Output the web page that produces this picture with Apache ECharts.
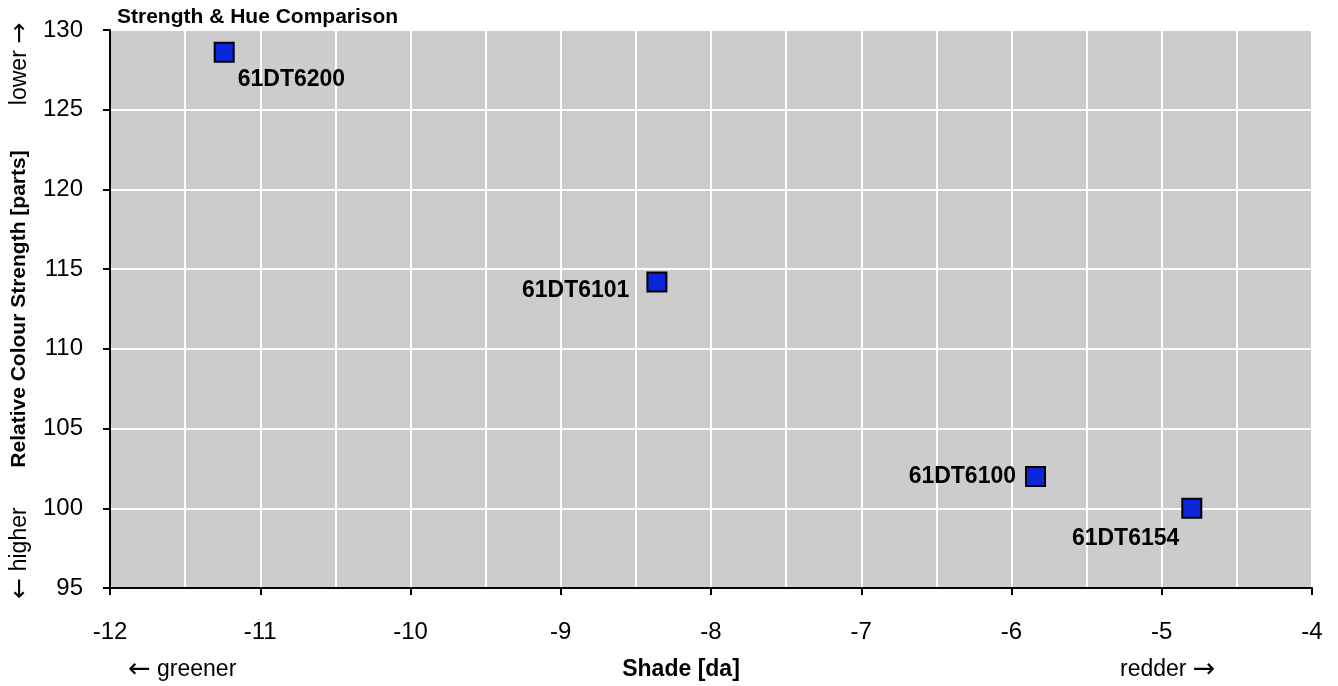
<!DOCTYPE html>
<html>
<head>
<meta charset="utf-8">
<script src="https://cdn.jsdelivr.net/npm/echarts@6/dist/echarts.min.js"></script>
<style>
html,body{margin:0;padding:0;background:#fff;}
#chart{width:1338px;height:686px;}
</style>
</head>
<body>
<div id="chart"></div>
<script>
// ---- data ----
var names = ['61DT6200', '61DT6101', '61DT6100', '61DT6154'];
var shade = [-11.24, -8.36, -5.84, -4.80];
var strength = [128.6, 114.2, 102.0, 100.0];
var xTicks = [-12, -11, -10, -9, -8, -7, -6, -5, -4];
var yTicks = [95, 100, 105, 110, 115, 120, 125, 130];

// ---- label placement (styling) ----
var labelPlace = {
  '61DT6200': {position: 'right', offset: [-2, 27]},
  '61DT6101': {position: 'left', offset: [-12, 9]},
  '61DT6100': {position: 'left', offset: [-4, 0]},
  '61DT6154': {position: 'left', offset: [3, 30]}
};

var font = 'Liberation Sans, Arial, sans-serif';
var arrowFont = 'DejaVu Sans, sans-serif';
var points = names.map(function (n, i) {
  var p = labelPlace[n];
  return {
    name: n,
    value: [shade[i], strength[i]],
    label: {show: true, formatter: n, position: p.position, offset: p.offset}
  };
});

var chart = echarts.init(document.getElementById('chart'));
chart.setOption({
  animation: false,
  backgroundColor: '#ffffff',
  title: {
    text: 'Strength & Hue Comparison',
    left: 112, top: 2,
    textStyle: {fontFamily: font, fontSize: 21, fontWeight: 'bold', color: '#000'}
  },
  grid: {left: 110, right: 26, top: 30, bottom: 98, show: true, backgroundColor: '#cccccc', borderWidth: 0},
  xAxis: {
    type: 'value',
    min: xTicks[0], max: xTicks[xTicks.length - 1], interval: 1,
    axisLine: {show: true, onZero: false, lineStyle: {color: '#000', width: 2}},
    axisTick: {show: true, inside: false, length: 7, lineStyle: {color: '#000', width: 2}},
    axisLabel: {fontFamily: font, fontSize: 24, color: '#000', margin: 32},
    splitLine: {show: true, lineStyle: {color: '#ffffff', width: 2}},
    minorTick: {show: false, splitNumber: 2},
    minorSplitLine: {show: true, lineStyle: {color: '#ffffff', width: 2}}
  },
  yAxis: {
    type: 'value',
    min: yTicks[0], max: yTicks[yTicks.length - 1], interval: 5,
    name: 'Relative Colour Strength [parts]', nameLocation: 'middle', nameGap: 80, nameRotate: 90,
    nameTextStyle: {fontFamily: font, fontSize: 21, fontWeight: 'bold', color: '#000'},
    axisLine: {show: true, onZero: false, lineStyle: {color: '#000', width: 2}},
    axisTick: {show: true, inside: false, length: 7, lineStyle: {color: '#000', width: 2}},
    axisLabel: {fontFamily: font, fontSize: 24, color: '#000', margin: 27},
    splitLine: {show: true, lineStyle: {color: '#ffffff', width: 2}}
  },
  graphic: [
    {type: 'text', x: 681, y: 670,
      style: {text: 'Shade [da]', font: 'bold 23px ' + font, fill: '#000', align: 'center', verticalAlign: 'middle'}},
    {type: 'text', x: 128, y: 670,
      style: {text: '{a|←} greener', font: '23px ' + font, fill: '#000', align: 'left', verticalAlign: 'middle',
        rich: {a: {fontFamily: arrowFont, fontSize: 27, fill: '#000'}}}},
    {type: 'text', x: 1120, y: 670,
      style: {text: 'redder {a|→}', font: '23px ' + font, fill: '#000', align: 'left', verticalAlign: 'middle',
        rich: {a: {fontFamily: arrowFont, fontSize: 27, fill: '#000'}}}},
    {type: 'text', x: 20, y: 64, rotation: Math.PI / 2,
      style: {text: 'lower {a|→}', font: '23px ' + font, fill: '#000', align: 'center', verticalAlign: 'middle',
        rich: {a: {fontFamily: arrowFont, fontSize: 25, fill: '#000'}}}},
    {type: 'text', x: 20, y: 553, rotation: Math.PI / 2,
      style: {text: '{a|←} higher', font: '23px ' + font, fill: '#000', align: 'center', verticalAlign: 'middle',
        rich: {a: {fontFamily: arrowFont, fontSize: 25, fill: '#000'}}}}
  ],
  series: [{
    type: 'scatter',
    symbol: 'rect',
    symbolSize: 19,
    itemStyle: {color: '#0a26d8', borderColor: '#000', borderWidth: 2, opacity: 1},
    label: {fontFamily: font, fontSize: 23, fontWeight: 'bold', color: '#000'},
    data: points
  }]
});
</script>
</body>
</html>
